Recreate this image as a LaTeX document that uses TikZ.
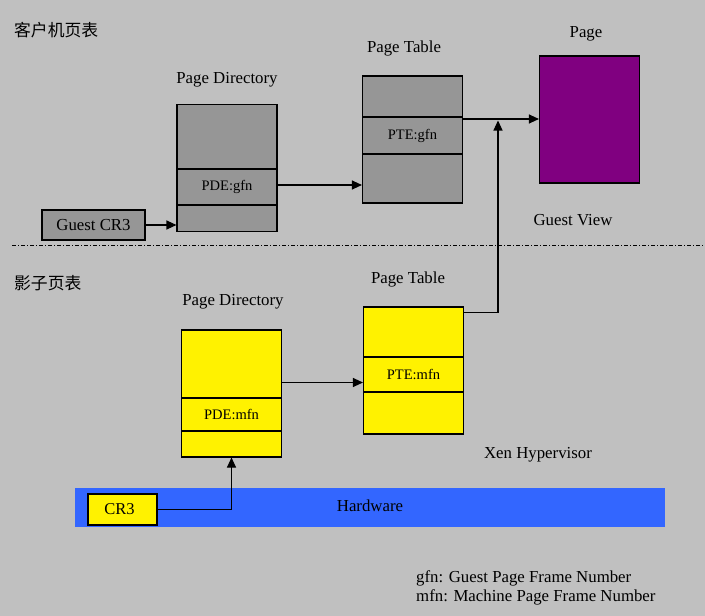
\documentclass[tikz,border=0pt]{standalone}
\usepackage{fontspec}
\setmainfont{Liberation Serif}
\newfontfamily\cjk{Noto Sans CJK SC}
\usepackage{tikz}
\usetikzlibrary{arrows.meta}

\definecolor{bggray}{HTML}{C0C0C0}
\definecolor{boxgray}{HTML}{969696}
\definecolor{pagepurple}{HTML}{800080}
\definecolor{hwblue}{HTML}{3366FF}

\tikzset{
  table/.style={rectangle, draw, line width=1.1pt, minimum width=100pt, minimum height=127pt, inner sep=0pt},
  entry/.style={rectangle, draw, line width=1.1pt, minimum width=100pt, inner sep=0pt, font=\fontsize{14.5}{17}\selectfont},
  label/.style={font=\fontsize{16.8}{20}\selectfont, inner sep=0pt},
  arr/.style={-{Triangle[length=10pt,width=9pt]}, line width=1.1pt}
}

\begin{document}
\begin{tikzpicture}[x=1pt, y=-1pt]
    \fill[bggray] (0,0) rectangle (705,616);
    \useasboundingbox (0,0) rectangle (705,616);

    % guest view
    \node[label, anchor=west] (gtitle) at (14,30) {\cjk 客户机页表};
    \node[table, fill=boxgray] (gpd) at (227,168) {};
    \node[entry, minimum height=36pt] (gpde) at (227,187) {PDE:gfn};
    \node[label] (gpdlabel) at (227,80) {Page Directory};
    \node[table, fill=boxgray] (gpt) at (412.5,139.5) {};
    \node[entry, minimum height=37pt] (gpte) at (412.5,135.5) {PTE:gfn};
    \node[label] (gptlabel) at (404,48) {Page Table};
    \node[table, fill=pagepurple] (page) at (589.5,119.5) {};
    \node[label] (pagelabel) at (586,34) {Page};
    \node[label] (gview) at (573,220) {Guest View};
    \node[rectangle, draw, line width=1.1pt, fill=boxgray, minimum width=103pt, minimum height=30pt,
          font=\fontsize{16.8}{20}\selectfont] (gcr3) at (93.5,225) {Guest CR3};

    \draw[arr] (gcr3.east) -- (gcr3.east -| gpd.west);
    \draw[arr] (gpde.east) ++(0,-2) coordinate (gpdout) -- (gpdout -| gpt.west);
    \coordinate (joint) at (498,119);
    \draw[arr] (gpte.north east |- joint) -- (joint -| page.west);

    % separator
    \draw[line width=0.8pt, dash pattern=on 4pt off 2pt on 1pt off 2pt] (12,245) -- (705,245);

    % shadow page table
    \node[label, anchor=west] (stitle) at (14,283) {\cjk 影子页表};
    \node[table, fill=yellow] (spd) at (231.5,393.5) {};
    \node[entry, minimum height=33pt] (spde) at (231.5,414.5) {PDE:mfn};
    \node[label] (spdlabel) at (233,302) {Page Directory};
    \node[table, fill=yellow] (spt) at (413.5,370.5) {};
    \node[entry, minimum height=35pt] (spte) at (413.5,374.5) {PTE:mfn};
    \node[label] (sptlabel) at (408,279) {Page Table};
    \node[label] (xen) at (538,455) {Xen Hypervisor};

    \node[rectangle, fill=hwblue, minimum width=590pt, minimum height=39pt, inner sep=0pt] (hw) at (370,507.5) {};
    \node[label] (hwlabel) at (370,506) {Hardware};
    \node[rectangle, draw, line width=1.1pt, fill=yellow, minimum width=69pt, minimum height=31pt,
          font=\fontsize{16.5}{19}\selectfont] (cr3) at (122.5,509.5) {\hspace*{-6pt}CR3};

    \draw[arr] (spd.east) ++(0,-11) coordinate (spdout) -- (spdout -| spt.west);
    \draw[arr, shorten >=1.5pt] (spt.north east) ++(0,6) -| (joint);
    \draw[arr] (cr3.east) -| (spd.south);

    % legend
    \node[label, anchor=west] (gfn) at (416,578) {gfn: Guest Page Frame Number};
    \node[label, anchor=west] (mfn) at (416,597) {mfn: Machine Page Frame Number};
\end{tikzpicture}
\end{document}
